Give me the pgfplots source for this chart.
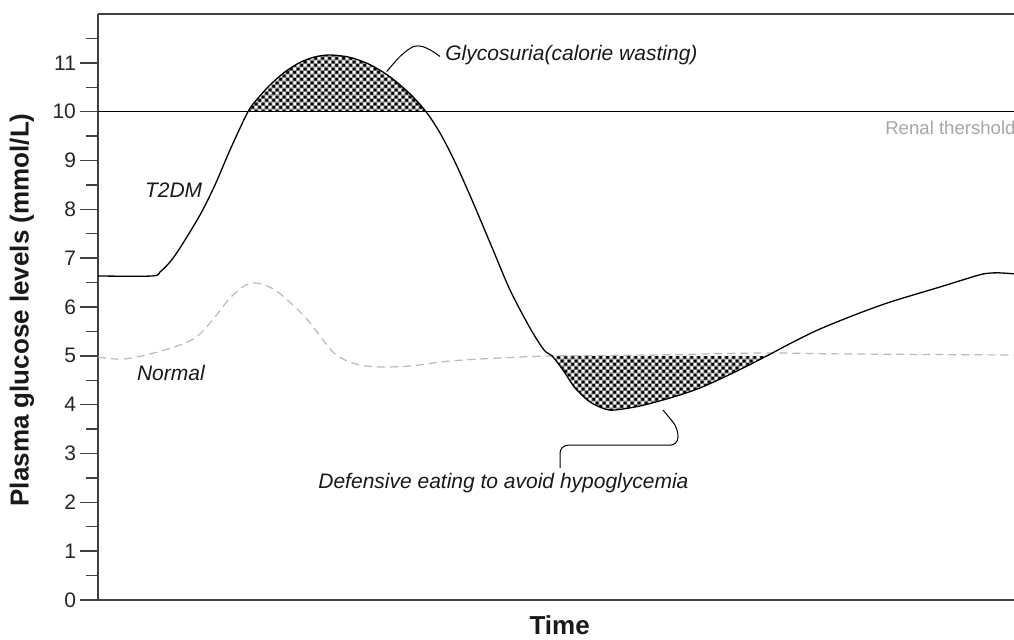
\documentclass[border=0pt]{standalone}
\usepackage{pgfplots}
\pgfplotsset{compat=1.18}
\usepackage{pgfplotstable}
\usepgfplotslibrary{fillbetween}
\usetikzlibrary{patterns}
\usepackage{fontspec}
\setmainfont{Liberation Sans}

\pgfdeclarepatterninherentlycolored{mycheck}{\pgfpointorigin}{\pgfqpoint{3.4pt}{3.4pt}}{\pgfqpoint{3.4pt}{3.4pt}}{%
  \pgfsetfillcolor{black!50}%
  \pgfpathrectangle{\pgfpointorigin}{\pgfqpoint{3.4pt}{3.4pt}}\pgfusepath{fill}%
  \pgfsetfillcolor{black}%
  \pgfpathrectangle{\pgfqpoint{0.2pt}{0.2pt}}{\pgfqpoint{1.35pt}{1.35pt}}%
  \pgfpathrectangle{\pgfqpoint{1.9pt}{1.9pt}}{\pgfqpoint{1.35pt}{1.35pt}}\pgfusepath{fill}%
  \pgfsetfillcolor{white}%
  \pgfpathrectangle{\pgfqpoint{1.9pt}{0.2pt}}{\pgfqpoint{1.35pt}{1.35pt}}%
  \pgfpathrectangle{\pgfqpoint{0.2pt}{1.9pt}}{\pgfqpoint{1.35pt}{1.35pt}}\pgfusepath{fill}%
}

\pgfplotstableread{
x y
0 6.635
54 6.635
62 6.717
72 6.922
82 7.209
102 7.884
117 8.499
132 9.216
150 10.0
160 10.276
172 10.547
187 10.815
202 11.008
217 11.122
232 11.161
252 11.112
272 10.963
292 10.713
312 10.364
328 10.0
342 9.564
357 8.97
374 8.19
393 7.27
412 6.35
432 5.57
446 5.12
454 5.0
465 4.71
477 4.342
492 4.055
507 3.911
517 3.891
542 3.973
572 4.137
602 4.342
637 4.669
669 5.0
692 5.25
722 5.55
762 5.88
795 6.12
842 6.41
880 6.65
890 6.69
900 6.70
916 6.68
}\tdm

\pgfplotstableread{
x y
0 4.976
27 4.935
67 5.12
97 5.365
117 5.795
133 6.205
153 6.492
177 6.349
207 5.795
233 5.12
247 4.915
262 4.813
282 4.772
312 4.792
352 4.894
402 4.956
454 4.997
550 5.017
667 5.058
750 5.038
916 5.017
}\normal

\begin{document}
\begin{tikzpicture}
\begin{axis}[
  scale only axis, width=458pt, height=293pt,
  xmin=0, xmax=916, ymin=0, ymax=12,
  axis x line*=box, axis y line*=left,
  xtick=\empty,
  ytick={0,...,11},
  minor ytick={0.5,1.5,...,11.5},
  tick align=outside,
  major tick length=9pt, minor tick length=6pt,
  tick style={black!75, line width=0.7pt},
  axis line style={black!75, line width=0.8pt},
  /pgf/number format/assume math mode=true,
  yticklabel style={font=\fontsize{10.5}{12}\selectfont, text=black!85, xshift=1.5pt},
  ylabel={Plasma glucose levels (mmol/L)},
  ylabel style={font=\fontsize{13}{15}\selectfont\bfseries, text=black!90,
    at={(axis description cs:0,0.495)}, anchor=center, yshift=38pt},
  xlabel={Time},
  xlabel style={font=\fontsize{13}{15}\selectfont\bfseries, text=black!90,
    at={(axis description cs:0.504,0)}, anchor=base, yshift=-17pt},
  clip=true,
]
\addplot[draw=none, name path=T, smooth, tension=0.5] table {\tdm};
\addplot[draw=none, name path=TEN] coordinates {(0,10) (916,10)};
\addplot[draw=none, name path=FIVE] coordinates {(0,5) (916,5)};
\addplot[pattern=mycheck, draw=none] fill between[of=T and TEN, soft clip={domain=150:328}];
\addplot[pattern=mycheck, draw=none] fill between[of=FIVE and T, soft clip={domain=454:669}];

\addplot[black, line width=0.5pt] coordinates {(0,10) (916,10)};
\addplot[gray!55, line width=0.6pt, dash pattern=on 4pt off 2.5pt, smooth, tension=0.5] table {\normal};
\addplot[black, line width=0.65pt, smooth, tension=0.5] table {\tdm};

\draw[black, line width=0.5pt, smooth] plot coordinates {(axis cs:288.7,10.82) (axis cs:302,11.13) (axis cs:315,11.33) (axis cs:325,11.33) (axis cs:335,11.23) (axis cs:342,11.13)};
\draw[black, line width=0.5pt, rounded corners=4pt] (axis cs:565,3.89) -- (axis cs:580,3.52) -- (axis cs:580,3.17) -- (axis cs:462,3.17) -- (axis cs:462,2.70);

\node[anchor=west, font=\fontsize{10.5}{12}\selectfont\itshape, text=black!90] at (axis cs:40,8.4) {T2DM};
\node[anchor=west, font=\fontsize{10.5}{12}\selectfont\itshape, text=black!90] at (axis cs:32,4.65) {Normal};
\node[anchor=west, font=\fontsize{10.5}{12}\selectfont\itshape, text=black!90, inner sep=0pt] at (axis cs:347,11.15) {Glycosuria(calorie wasting)};
\node[anchor=west, font=\fontsize{10.5}{12}\selectfont\itshape, text=black!90, inner sep=0pt] at (axis cs:220,2.39) {Defensive eating to avoid hypoglycemia};
\node[anchor=east, font=\fontsize{9.3}{11}\selectfont, text=black!35, inner sep=0pt] at (axis cs:918,9.66) {Renal thershold};
\end{axis}
\pgfresetboundingbox
\path ([xshift=-49pt,yshift=-19.5pt]current axis.south west) rectangle ([yshift=7pt]current axis.north east);
\end{tikzpicture}
\end{document}
